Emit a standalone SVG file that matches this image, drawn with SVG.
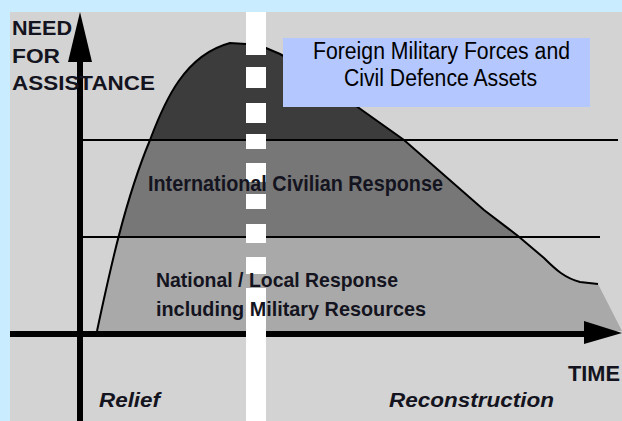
<svg xmlns="http://www.w3.org/2000/svg" width="622" height="421" viewBox="0 0 622 421">
  <style>
    .lbl { font-family: "Liberation Sans", Arial, sans-serif; font-weight: bold; fill: #141420; }
    .it { font-style: italic; }
    .box { font-family: "Liberation Sans", Arial, sans-serif; font-size: 23px; fill: #000; }
    .grid { stroke: #000; stroke-width: 2; }
    .axis { fill: #000; }
    .bar { fill: #fff; }
  </style>
  <defs>
    <clipPath id="area">
      <path d="M97,331 C110,270 125,200 150,140 C165,100 185,55 230,43 L246,44 L266,48 L280,54 L300,65 L359,108 L404,140 L484,210 L518,236 L544,258 C556,270 565,278 580,282 L598,284 L622,331 Z"/>
    </clipPath>
  </defs>

  <!-- background -->
  <rect x="0" y="0" width="622" height="421" fill="#c9ecfe"/>
  <rect x="10" y="12" width="612" height="409" fill="#d3d3d3"/>

  <!-- filled response bands -->
  <g id="bands" clip-path="url(#area)">
    <rect x="0" y="0" width="622" height="140" fill="#3c3c3c"/>
    <rect x="0" y="140" width="622" height="97" fill="#777777"/>
    <rect x="0" y="237" width="622" height="100" fill="#a9a9a9"/>
  </g>

  <g id="connectors">
    <!-- curve outline -->
    <path d="M97,331 C110,270 125,200 150,140 C165,100 185,55 230,43 L246,44 L266,48 L280,54 L300,65 L359,108 L404,140 L484,210 L518,236 L544,258 C556,270 565,278 580,282 L598,284" fill="none" stroke="#000" stroke-width="2"/>
    <!-- horizontal level lines -->
    <line class="grid" x1="83" y1="140" x2="618" y2="140"/>
    <line class="grid" x1="83" y1="237" x2="600" y2="237"/>
    <!-- axes -->
    <rect class="axis" x="77" y="55" width="6" height="366"/>
    <polygon class="axis" points="80,12 92,62 68,62"/>
    <rect class="axis" x="10" y="331" width="576" height="6"/>
    <polygon class="axis" points="584,321 622,333 584,344"/>
  </g>

  <!-- white dashed divider -->
  <g id="divider">
    <rect class="bar" x="246" y="12" width="20" height="43"/>
    <rect class="bar" x="246" y="67" width="20" height="21"/>
    <rect class="bar" x="246" y="103" width="20" height="20"/>
    <rect class="bar" x="246" y="134" width="20" height="15"/>
    <rect class="bar" x="246" y="163" width="20" height="19"/>
    <rect class="bar" x="246" y="194" width="20" height="15"/>
    <rect class="bar" x="246" y="224" width="20" height="19"/>
    <rect class="bar" x="246" y="257" width="20" height="17"/>
    <rect class="bar" x="246" y="288" width="20" height="133"/>
  </g>

  <!-- foreign military box -->
  <g id="foreign-military">
    <rect x="283" y="38" width="307" height="69" fill="#b4c7fe"/>
    <text class="box" x="313" y="59" textLength="257" lengthAdjust="spacingAndGlyphs">Foreign Military Forces and</text>
    <text class="box" x="344" y="86" textLength="193" lengthAdjust="spacingAndGlyphs">Civil Defence Assets</text>
  </g>

  <g id="y-label">
    <text class="lbl" font-size="21" x="12" y="35" textLength="60" lengthAdjust="spacingAndGlyphs">NEED</text>
    <text class="lbl" font-size="21" x="12" y="63" textLength="48" lengthAdjust="spacingAndGlyphs">FOR</text>
    <text class="lbl" font-size="21" x="12" y="90" textLength="143" lengthAdjust="spacingAndGlyphs">ASSISTANCE</text>
  </g>

  <g id="international">
    <text class="lbl" font-size="22" x="148" y="191" textLength="295" lengthAdjust="spacingAndGlyphs">International Civilian Response</text>
  </g>

  <g id="national">
    <text class="lbl" font-size="21" x="156" y="287" textLength="242" lengthAdjust="spacingAndGlyphs">National / Local Response</text>
    <text class="lbl" font-size="21" x="156" y="316" textLength="270" lengthAdjust="spacingAndGlyphs">including Military Resources</text>
  </g>

  <g id="time-label">
    <text class="lbl" font-size="22" x="568" y="381" textLength="52" lengthAdjust="spacingAndGlyphs">TIME</text>
  </g>

  <g id="relief">
    <text class="lbl it" font-size="21" x="99" y="407" textLength="61" lengthAdjust="spacingAndGlyphs">Relief</text>
  </g>

  <g id="reconstruction">
    <text class="lbl it" font-size="21" x="389" y="407" textLength="165" lengthAdjust="spacingAndGlyphs">Reconstruction</text>
  </g>
</svg>
